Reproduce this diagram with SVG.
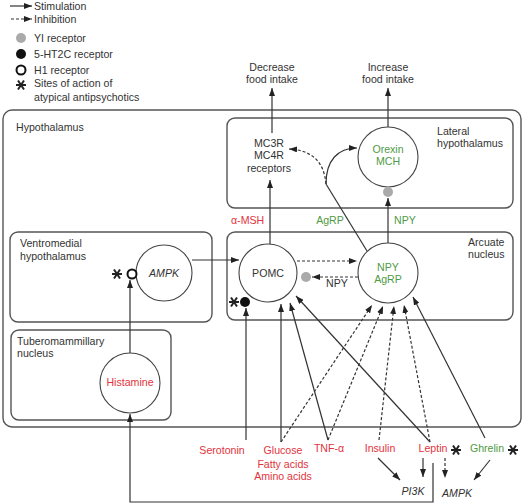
<svg xmlns="http://www.w3.org/2000/svg" width="523" height="504" viewBox="0 0 523 504">
<style>
text{font-family:"Liberation Sans",Arial,sans-serif;font-size:10.6px;fill:#333}
.c{text-anchor:middle}
.r{fill:#e2333d}
.g{fill:#4f9a45}
.i{font-style:italic}
.box{fill:none;stroke:#555;stroke-width:1.4}
.cell{fill:#fff;stroke:#444;stroke-width:1.1}
.ln{fill:none;stroke:#333;stroke-width:1.2}
.d{stroke-dasharray:3,2}
.ast line{stroke:#222;stroke-width:2}
</style>
<defs>
<marker id="a" markerWidth="8" markerHeight="6" refX="8" refY="3" orient="auto" markerUnits="userSpaceOnUse"><path d="M0,0 L8,3 L0,6 z" fill="#222"/></marker>
<symbol id="ast" viewBox="-6 -6 12 12" overflow="visible"><g class="ast"><line x1="-5" y1="0" x2="5" y2="0"/><line x1="-3" y1="-4.5" x2="3" y2="4.5"/><line x1="-3" y1="4.5" x2="3" y2="-4.5"/></g></symbol>
</defs>
<rect width="523" height="504" fill="#fff"/>

<g id="legend">
<line class="ln" x1="10" y1="6" x2="32" y2="6" marker-end="url(#a)"/>
<text x="34" y="10">Stimulation</text>
<line class="ln d" x1="11" y1="19" x2="32" y2="19" stroke="#999" marker-end="url(#a)"/>
<text x="34" y="23">Inhibition</text>
<circle cx="21" cy="38" r="5" fill="#aaa"/>
<text x="34" y="42">YI receptor</text>
<circle cx="21" cy="54" r="5" fill="#111"/>
<text x="34" y="58">5-HT2C receptor</text>
<circle cx="21" cy="70" r="4.5" fill="#fff" stroke="#111" stroke-width="2"/>
<text x="34" y="74">H1 receptor</text>
<use href="#ast" x="15" y="79" width="12" height="12"/>
<text x="34" y="87">Sites of action of</text>
<text x="34" y="101">atypical antipsychotics</text>
</g>

<g id="hypothalamus"><rect class="box" x="3" y="110" width="518" height="317" rx="9"/><text x="16" y="131">Hypothalamus</text></g>
<g id="lateral"><rect class="box" x="227" y="118" width="286" height="90" rx="8"/><text x="437" y="135">Lateral</text><text x="437" y="147">hypothalamus</text></g>
<g id="arcuate"><rect class="box" x="227" y="232" width="286" height="88" rx="8"/><text x="468" y="246">Arcuate</text><text x="468" y="258">nucleus</text></g>
<g id="ventromedial"><rect class="box" x="10" y="232" width="202" height="90" rx="8"/><text x="20" y="247">Ventromedial</text><text x="20" y="260">hypothalamus</text></g>
<g id="tuberomammillary"><rect class="box" x="11" y="330" width="160" height="90" rx="8"/><text x="17" y="345">Tuberomammillary</text><text x="17" y="357">nucleus</text></g>

<g id="connectors">
<line class="ln" x1="272" y1="133" x2="272" y2="88" stroke-width="1.6" marker-end="url(#a)"/>
<line class="ln" x1="388" y1="127" x2="388" y2="88" stroke-width="1.8" marker-end="url(#a)"/>
<line class="ln" x1="270" y1="244" x2="270" y2="180" stroke="#666" marker-end="url(#a)"/>
<line class="ln" x1="388" y1="243" x2="388" y2="198" stroke-width="1.5" marker-end="url(#a)"/>
<line class="ln" x1="367" y1="251" x2="326" y2="184"/>
<path class="ln" d="M326,184 C326,160 338,148 357,148" marker-end="url(#a)"/>
<path class="ln d" d="M326,184 C324,160 310,150 289,149" marker-end="url(#a)"/>
<line class="ln" x1="192" y1="260" x2="239" y2="260" marker-end="url(#a)"/>
<line class="ln d" x1="297" y1="261" x2="357" y2="261" marker-end="url(#a)"/>
<line class="ln d" x1="358" y1="277" x2="312" y2="277" marker-end="url(#a)"/>
<line class="ln" x1="130" y1="353" x2="130" y2="280" marker-end="url(#a)"/>
<polyline class="ln" points="433,463 433,502 130,502 130,414" marker-end="url(#a)"/>
<line class="ln" x1="246" y1="440" x2="246" y2="308" marker-end="url(#a)"/>
<line class="ln" x1="281" y1="442" x2="281" y2="304" marker-end="url(#a)"/>
<line class="ln d" x1="281" y1="442" x2="372" y2="305" marker-end="url(#a)"/>
<line class="ln" x1="328" y1="440" x2="290" y2="303" marker-end="url(#a)"/>
<line class="ln d" x1="328" y1="440" x2="383" y2="306" marker-end="url(#a)"/>
<line class="ln d" x1="379" y1="440" x2="394" y2="306" marker-end="url(#a)"/>
<line class="ln" x1="430" y1="442" x2="296" y2="296" marker-end="url(#a)"/>
<line class="ln d" x1="430" y1="442" x2="404" y2="305" marker-end="url(#a)"/>
<line class="ln" x1="485" y1="438" x2="413" y2="297" marker-end="url(#a)"/>
<line class="ln" x1="378" y1="458" x2="400" y2="480" marker-end="url(#a)"/>
<line class="ln" x1="423" y1="458" x2="423" y2="477" stroke-width="1.5" marker-end="url(#a)"/>
<line class="ln d" x1="445" y1="458" x2="445" y2="478" marker-end="url(#a)"/>
<line class="ln" x1="490" y1="460" x2="474" y2="480" marker-end="url(#a)"/>
</g>

<g id="decrease"><text class="c" x="272" y="71">Decrease</text><text class="c" x="272" y="83">food intake</text></g>
<g id="increase"><text class="c" x="388" y="71">Increase</text><text class="c" x="388" y="83">food intake</text></g>
<g id="mc3r"><text class="c" x="269" y="147">MC3R</text><text class="c" x="269" y="159">MC4R</text><text class="c" x="269" y="172">receptors</text></g>
<g id="orexin"><circle class="cell" cx="388" cy="157" r="30"/><text class="c g" x="388" y="153">Orexin</text><text class="c g" x="388" y="165">MCH</text><circle cx="388" cy="192" r="5" fill="#aaa"/></g>
<g id="labels-mid"><text class="r" x="231" y="224">α-MSH</text><text class="c g" x="330" y="224">AgRP</text><text class="c g" x="405" y="224">NPY</text></g>
<g id="pomc"><circle class="cell" cx="268" cy="273" r="29"/><text class="c" x="268" y="277">POMC</text><circle cx="306" cy="277" r="5" fill="#aaa"/><circle cx="245" cy="302" r="5" fill="#111"/><use href="#ast" x="228" y="296" width="12" height="12"/></g>
<g id="npy"><circle class="cell" cx="388" cy="273" r="30"/><text class="c g" x="388" y="271">NPY</text><text class="c g" x="388" y="283">AgRP</text><text class="c" x="337" y="287">NPY</text></g>
<g id="ampk-vmh"><circle class="cell" cx="164" cy="273" r="28"/><text class="c i" x="164" y="277">AMPK</text><circle cx="132" cy="274" r="4.5" fill="#fff" stroke="#111" stroke-width="2"/><use href="#ast" x="111" y="268" width="12" height="12"/></g>
<g id="histamine"><circle class="cell" cx="130" cy="383" r="30"/><text class="c r" x="130" y="386">Histamine</text></g>
<g id="serotonin"><text class="c r" x="222" y="454">Serotonin</text></g>
<g id="glucose"><text class="c r" x="283" y="454">Glucose</text><text class="c r" x="283" y="468">Fatty acids</text><text class="c r" x="283" y="480">Amino acids</text></g>
<g id="tnf"><text class="c r" x="329" y="452">TNF-α</text></g>
<g id="insulin"><text class="c r" x="380" y="452">Insulin</text></g>
<g id="leptin"><text class="c r" x="433" y="452">Leptin</text><use href="#ast" x="450" y="444" width="12" height="12"/></g>
<g id="ghrelin"><text class="c g" x="487" y="452">Ghrelin</text><use href="#ast" x="507" y="444" width="12" height="12"/></g>
<g id="pi3k"><text class="c i" x="413" y="495">PI3K</text></g>
<g id="ampk"><text class="c i" x="457" y="497">AMPK</text></g>
</svg>
